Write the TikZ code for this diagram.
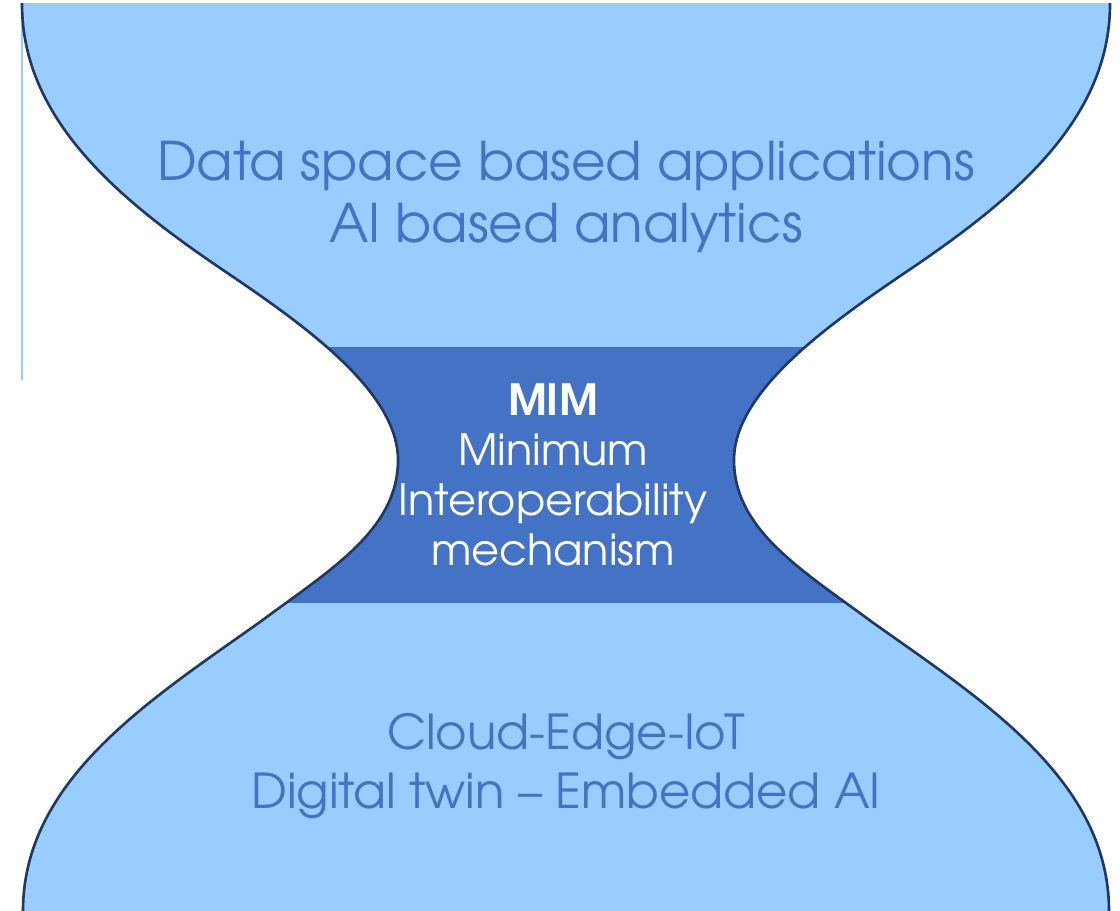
\documentclass[tikz,border=0pt]{standalone}
\usepackage{fontspec}
\setmainfont{texgyreadventor}[Extension=.otf,UprightFont=*-regular,BoldFont=*-bold]
\definecolor{glassfill}{HTML}{99CCFF}
\definecolor{neckfill}{HTML}{4472C4}
\definecolor{glassline}{HTML}{1F3864}
\tikzset{
  layertext/.style={text=neckfill, align=center, font=\fontsize{30.3}{35}\selectfont},
  necktext/.style={text=white, align=center, font=\fontsize{24.5}{28.5}\selectfont}
}
\begin{document}
\begin{tikzpicture}[x=0.02cm,y=-0.02cm]
  \useasboundingbox (0,0) rectangle (1120,911);
  \draw[glassfill, line width=0.6pt] (22,4) -- (22,380);
  \begin{scope}
    \clip (0,4) rectangle (1120,911);
    \draw[glassline, line width=1.5pt, fill=glassfill,
      path picture={\fill[neckfill] (0,347) rectangle (1120,603);}]
      (22,-20) -- (22,4) .. controls (22,120) and (120,200) .. (220,268)
      .. controls (300,322) and (398,390) .. (398,460)
      .. controls (398,530) and (330,570) .. (260,622)
      .. controls (150,700) and (23,780) .. (23,911) -- (23,930)
      -- (1109,930) -- (1109,911)
      .. controls (1109,780) and (982,700) .. (872,622)
      .. controls (802,570) and (734,530) .. (734,460)
      .. controls (734,390) and (832,322) .. (912,268)
      .. controls (1012,200) and (1110,120) .. (1110,4) -- (1110,-20) -- cycle;
  \end{scope}
  \node[layertext] (apps) at (566,197) {Data space based applications\\AI based analytics};
  \node[necktext] (mim) at (553,475) {\textbf{MIM}\\Minimum\\Interoperability\\mechanism};
  \node[layertext, font=\fontsize{27.4}{34}\selectfont] (infra) at (566,766) {Cloud-Edge-IoT\\Digital twin -- Embedded AI};
\end{tikzpicture}
\end{document}
